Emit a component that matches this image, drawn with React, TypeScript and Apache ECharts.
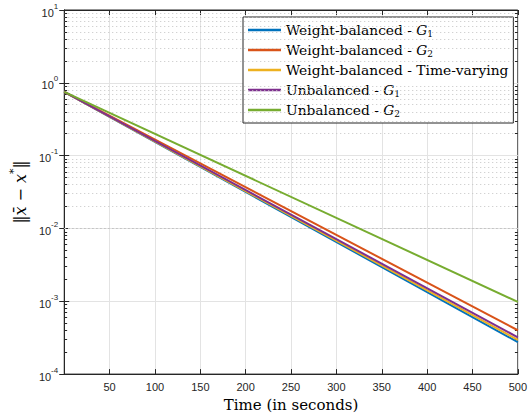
import React, { useEffect, useRef } from "react";
import * as echarts from "echarts";

const times = [0, 500];
const wbG1 = [0.75, 2.75e-4];
const wbG2 = [0.75, 4.0e-4];
const wbTV = [0.75, 2.95e-4];
const ubG1 = [0.75, 3.2e-4];
const ubG2 = [0.75, 9.8e-4];

const seriesNames = [
  "Weight-balanced - G1",
  "Weight-balanced - G2",
  "Weight-balanced - Time-varying",
  "Unbalanced - G1",
  "Unbalanced - G2",
];
const seriesData = [wbG1, wbG2, wbTV, ubG1, ubG2];
const colors = ["#0072BD", "#D95319", "#EDB120", "#7E2F8E", "#77AC30"];

const xTicks = [50, 100, 150, 200, 250, 300, 350, 400, 450, 500];
const minorY: number[] = [];
for (let e = -4; e <= 0; e++) for (let m = 2; m <= 9; m++) minorY.push(m * Math.pow(10, e));

const legendRich: Record<string, string> = {
  "Weight-balanced - G1": "{t|Weight-balanced - }{g|G}{s|1}",
  "Weight-balanced - G2": "{t|Weight-balanced - }{g|G}{s|2}",
  "Weight-balanced - Time-varying": "{t|Weight-balanced - Time-varying}",
  "Unbalanced - G1": "{t|Unbalanced - }{g|G}{s|1}",
  "Unbalanced - G2": "{t|Unbalanced - }{g|G}{s|2}",
};

export default function App() {
  const ref = useRef<HTMLDivElement>(null);
  useEffect(() => {
    if (!ref.current) return;
    const chart = echarts.init(ref.current, null, { renderer: "svg" });
    const axisColor = "#262626";
    const serif = "DejaVu Serif";
    const sans = "Liberation Sans";
    const series: any[] = seriesNames.map((n, i) => ({
      name: n,
      type: "line",
      data: times.map((t, j) => [t, seriesData[i][j]]),
      showSymbol: false,
      symbol: "none",
      lineStyle: { color: colors[i], width: 2 },
      itemStyle: { color: colors[i] },
      z: 5 + i,
    }));
    const tickLen = 3.2;
    series.push({
      name: "__minor",
      type: "line",
      data: [],
      silent: true,
      markLine: {
        silent: true,
        symbol: ["none", "none"],
        label: { show: false },
        lineStyle: { color: "#c4c4c4", type: [1, 3], width: 1 },
        emphasis: { disabled: true },
        data: minorY.map((v) => ({ yAxis: v })),
      },
      z: 1,
    });
    series.push({
      name: "__minorTicks",
      type: "line",
      data: [],
      silent: true,
      markLine: {
        silent: true,
        symbol: ["none", "none"],
        label: { show: false },
        lineStyle: { color: axisColor, type: "solid", width: 1 },
        emphasis: { disabled: true },
        data: [
          ...minorY.map((v) => [{ coord: [0, v] }, { coord: [tickLen, v] }]),
          ...minorY.map((v) => [{ coord: [500 - tickLen, v] }, { coord: [500, v] }]),
        ],
      },
      z: 2,
    });
    chart.setOption({
      animation: false,
      color: colors,
      grid: {
        left: 57,
        right: 7,
        top: 10,
        bottom: 40,
        show: true,
        borderColor: axisColor,
        borderWidth: 1,
        backgroundColor: "#ffffff",
      },
      legend: {
        data: seriesNames,
        orient: "vertical",
        left: 243,
        top: 17,
        padding: [5, 5, 5, 5],
        itemGap: 4,
        itemWidth: 33,
        itemHeight: 2.5,
        icon: "rect",
        backgroundColor: "#ffffff",
        borderColor: axisColor,
        borderWidth: 1,
        borderRadius: 0,
        formatter: (name: string) => legendRich[name] || name,
        textStyle: {
          fontFamily: serif,
          fontSize: 13.8,
          color: "#000",
          lineHeight: 16,
          rich: {
            t: { fontFamily: serif, fontSize: 13.8, color: "#000", lineHeight: 16 },
            g: { fontFamily: serif, fontStyle: "italic", fontSize: 13.8, color: "#000", lineHeight: 16 },
            s: { fontFamily: serif, fontSize: 9, color: "#000", lineHeight: 12, verticalAlign: "bottom" },
          },
        },
      },
      xAxis: [
        {
          type: "value",
          min: 0,
          max: 500,
          interval: 50,
          name: "Time (in seconds)",
          nameLocation: "middle",
          nameGap: 20,
          nameTextStyle: { fontFamily: serif, fontSize: 15, color: "#000" },
          axisLine: { show: true, lineStyle: { color: axisColor } },
          axisTick: { show: true, inside: true, length: 5, lineStyle: { color: axisColor } },
          axisLabel: {
            fontFamily: sans,
            fontSize: 11,
            color: axisColor,
            margin: 7,
            formatter: (v: number) => (xTicks.indexOf(v) >= 0 ? String(v) : ""),
          },
          splitLine: { show: true, lineStyle: { color: "#e3e3e3", width: 1 } },
        },
        {
          type: "value",
          position: "top",
          min: 0,
          max: 500,
          interval: 50,
          axisLine: { show: true, lineStyle: { color: axisColor } },
          axisTick: { show: true, inside: true, length: 5, lineStyle: { color: axisColor } },
          axisLabel: { show: false },
          splitLine: { show: false },
        },
      ],
      yAxis: [
        {
          type: "log",
          logBase: 10,
          min: 1e-4,
          max: 10,
          interval: 1,
          name: "{n|‖}{i|x̄}{n| − }{i|x}{s|*}{n|‖}",
          nameLocation: "middle",
          nameRotate: 90,
          nameGap: 30,
          nameTextStyle: {
            fontFamily: serif,
            fontSize: 16,
            fontWeight: "normal",
            color: "#000",
            rich: {
              n: { fontFamily: serif, fontWeight: "normal", fontSize: 16, color: "#000", lineHeight: 20, verticalAlign: "bottom" },
              i: { fontFamily: serif, fontWeight: "normal", fontStyle: "italic", fontSize: 16, color: "#000", lineHeight: 20, verticalAlign: "bottom" },
              s: { fontFamily: serif, fontWeight: "normal", fontSize: 11, color: "#000", lineHeight: 12, verticalAlign: "top" },
            },
          },
          axisLine: { show: true, lineStyle: { color: axisColor } },
          axisTick: { show: true, inside: true, length: 5, lineStyle: { color: axisColor } },
          axisLabel: {
            fontFamily: sans,
            color: axisColor,
            margin: 6,
            formatter: (v: number) => {
              const e = Math.round(Math.log10(v));
              return "{b|10}{e|" + e + "}";
            },
            rich: {
              b: { fontFamily: sans, fontSize: 11, color: axisColor, lineHeight: 16, verticalAlign: "bottom" },
              e: { fontFamily: sans, fontSize: 8, color: axisColor, lineHeight: 10, verticalAlign: "top" },
            },
          },
          splitLine: { show: true, lineStyle: { color: "#e3e3e3", width: 1 } },
        },
        {
          type: "log",
          logBase: 10,
          min: 1e-4,
          max: 10,
          interval: 1,
          position: "right",
          axisLine: { show: true, lineStyle: { color: axisColor } },
          axisTick: { show: true, inside: true, length: 5, lineStyle: { color: axisColor } },
          axisLabel: { show: false },
          splitLine: { show: false },
        },
      ],
      series,
    });
    return () => chart.dispose();
  }, []);
  return (
    <div
      ref={ref}
      style={{ position: "fixed", left: 0, top: 0, width: 530, height: 417, background: "#fff" }}
    />
  );
}
